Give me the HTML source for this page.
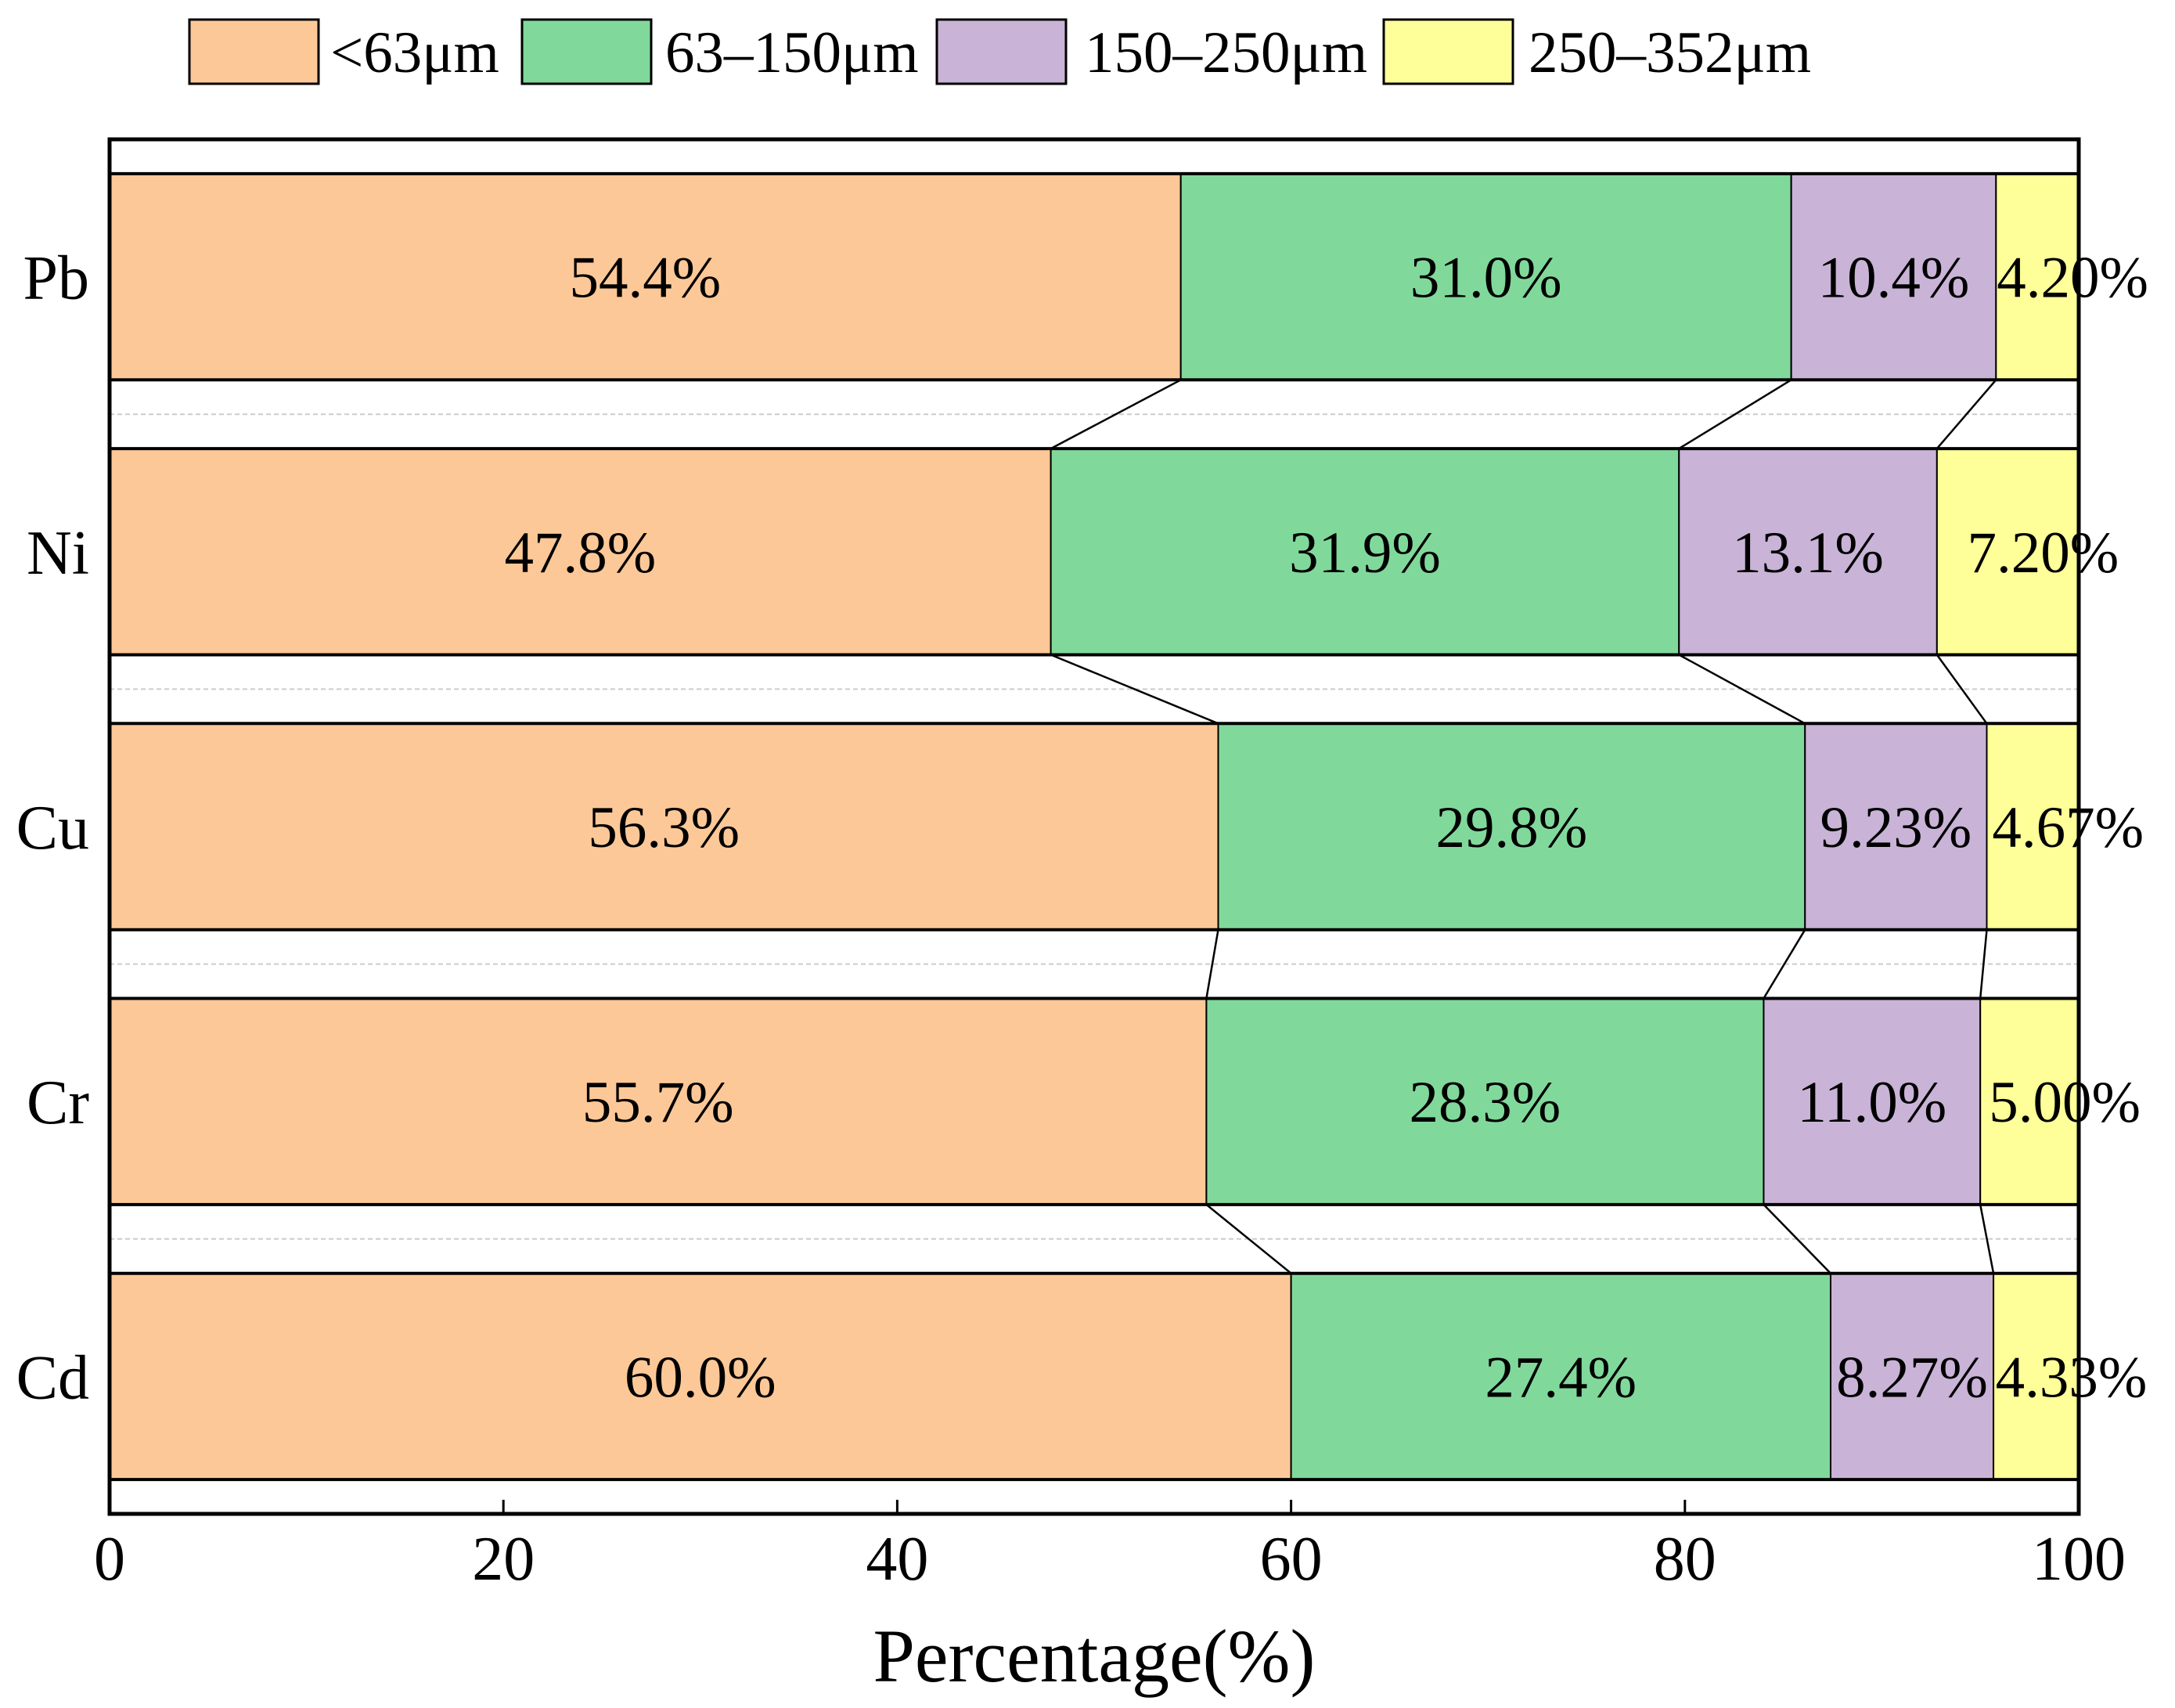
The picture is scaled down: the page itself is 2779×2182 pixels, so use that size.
<!DOCTYPE html>
<html><head><meta charset="utf-8"><style>
html,body{margin:0;padding:0;background:#fff;}
svg{display:block;font-family:"Liberation Serif","DejaVu Serif",serif;}
</style></head><body>
<svg id="chart" width="2779" height="2182" viewBox="0 0 2779 2182" xmlns="http://www.w3.org/2000/svg"></svg>
<script>
const categories = ["Pb","Ni","Cu","Cr","Cd"];
const seriesNames = ["<63μm","63–150μm","150–250μm","250–352μm"];
const s1 = [54.4, 47.8, 56.3, 55.7, 60.0];
const s2 = [31.0, 31.9, 29.8, 28.3, 27.4];
const s3 = [10.4, 13.1, 9.23, 11.0, 8.27];
const s4 = [4.20, 7.20, 4.67, 5.00, 4.33];
const labels1 = ["54.4%","47.8%","56.3%","55.7%","60.0%"];
const labels2 = ["31.0%","31.9%","29.8%","28.3%","27.4%"];
const labels3 = ["10.4%","13.1%","9.23%","11.0%","8.27%"];
const labels4 = ["4.20%","7.20%","4.67%","5.00%","4.33%"];
const xTicks = [0,20,40,60,80,100];

const colors = ["#FDC897","#80D99B","#C9B3D7","#FFFF99"];
const series = [s1,s2,s3,s4];
const labelSets = [labels1,labels2,labels3,labels4];
const L=140, R=2665-9, T=178, B=1934;
const NS="http://www.w3.org/2000/svg";
const svg=document.getElementById('chart');
const xs=v=>L+(R-L)*v/100;
const band=(B-T)/categories.length;
const yc=i=>T+band*(i+0.5);
const bh=band*0.75;
function el(tag,attrs,parent){const e=document.createElementNS(NS,tag);for(const k in attrs)e.setAttribute(k,attrs[k]);(parent||svg).appendChild(e);return e;}

// legend
const legX=[242,667,1197,1768], legT=[422,850,1386,1953];
seriesNames.forEach((n,j)=>{
  const g=el('g',{});
  
  
  const r=el('rect',{x:legX[j],y:25,width:165,height:82,fill:colors[j],stroke:'#000','stroke-width':3},g);
  
  
  const t=el('text',{x:legT[j],y:92,'font-size':75},g);
  t.textContent=n;
  
  
});

// dashed gridlines between bars
for(let i=0;i<categories.length-1;i++){
  const y=T+band*(i+1);
  const d=el('line',{x1:L,x2:R,y1:y,y2:y,stroke:'#ccc','stroke-width':2,'stroke-dasharray':'6,4'});
  
  
}

// bars
categories.forEach((c,i)=>{
  let cum=0;
  const top=yc(i)-bh/2;
  series.forEach((s,j)=>{
    const x0=xs(cum), x1=xs(cum+s[i]);
    const r=el('rect',{x:x0,y:top,width:x1-x0,height:bh,fill:colors[j],stroke:'#000','stroke-width':2});
    
    
    let cx=(x0+x1)/2; if(j===3) cx+=45;
    const t=el('text',{x:cx,y:yc(i)+26,'font-size':75,'text-anchor':'middle'});
    t.textContent=labelSets[j][i];
    
    
    cum+=s[i];
  });
  el('line',{x1:L,x2:R,y1:top,y2:top,stroke:'#000','stroke-width':4});
  el('line',{x1:L,x2:R,y1:top+bh,y2:top+bh,stroke:'#000','stroke-width':4});
  const cl=el('text',{x:114,y:yc(i)+28,'font-size':80,'text-anchor':'end'});
  cl.textContent=c;
  
  
});

// connector lines
for(let i=0;i<categories.length-1;i++){
  let a=0,b=0;
  for(let j=0;j<3;j++){
    a+=series[j][i]; b+=series[j][i+1];
    const ln=el('line',{x1:xs(a),y1:yc(i)+bh/2,x2:xs(b),y2:yc(i+1)-bh/2,stroke:'#000','stroke-width':2.5});
    
    
  }
}

// frame
const fr=el('rect',{x:L,y:T,width:R-L,height:B-T,fill:'none',stroke:'#000','stroke-width':5});



// ticks
xTicks.forEach(v=>{
  const x=xs(v);
  const tk=el('line',{x1:x,x2:x,y1:B,y2:B-18,stroke:'#000','stroke-width':3});
  
  
  const t=el('text',{x:x,y:2018,'font-size':80,'text-anchor':'middle'});
  t.textContent=v;
  
  
});
const xt=el('text',{x:(L+R)/2,y:2148,'font-size':96,'text-anchor':'middle'});
xt.textContent='Percentage(%)';


</script>
</body></html>
